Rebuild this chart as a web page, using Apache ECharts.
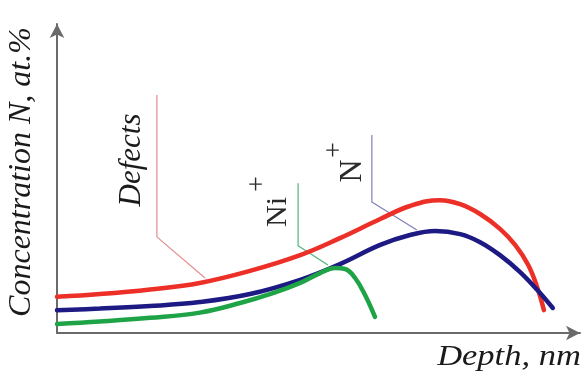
<!DOCTYPE html>
<html>
<head>
<meta charset="utf-8">
<script src="https://cdn.jsdelivr.net/npm/echarts@6/dist/echarts.min.js"></script>
<style>
  html, body { margin: 0; padding: 0; background: #fff; }
  #chart { width: 588px; height: 374px; }
</style>
</head>
<body>
<div id="chart"></div>
<script>
// Depth profiles (arbitrary units, 0–100 on both axes)
const defectsDepth = [0, 8.2, 17.8, 27.3, 36.9, 46.5, 54.1, 61.8, 67.5, 73.2, 77.1, 80.9, 84.7, 87.6, 90.1, 91.8, 93.1];
const defectsConc  = [11.7, 12.6, 14.1, 16.2, 20.1, 25.2, 30.7, 36.9, 41.1, 43.0, 41.7, 38.5, 33.7, 28.5, 22.0, 14.9, 7.4];

const nDepth = [0, 8.2, 17.8, 27.3, 36.9, 46.5, 54.1, 61.8, 67.5, 72.3, 77.1, 80.9, 84.7, 88.5, 91.8, 94.8];
const nConc  = [7.4, 7.9, 8.7, 10.0, 12.6, 17.2, 22.3, 28.5, 31.7, 33.0, 32.0, 29.4, 25.2, 19.8, 14.0, 8.1];

const niDepth = [0, 8.2, 17.8, 27.3, 35.0, 41.3, 46.5, 50.3, 53.2, 55.1, 57.0, 58.9, 60.8];
const niConc  = [2.9, 3.7, 4.9, 6.6, 9.7, 12.9, 16.2, 19.4, 21.0, 20.7, 17.8, 12.3, 5.2];

// Leader lines from each label down to its curve
const defectsLeaderDepth = [19.1, 19.1, 28.3];
const defectsLeaderConc  = [77.0, 31.1, 17.8];
const niLeaderDepth = [46.1, 46.1, 51.8];
const niLeaderConc  = [48.5, 28.2, 22.0];
const nLeaderDepth = [60.2, 60.2, 68.8];
const nLeaderConc  = [64.1, 42.4, 33.3];

const zip = (xs, ys) => xs.map((x, i) => [x, ys[i]]);

const chart = echarts.init(document.getElementById('chart'), null, { renderer: 'canvas' });

const serif = '"Liberation Serif", "DejaVu Serif", serif';

function curve(name, xs, ys, color) {
  return {
    name, type: 'line', data: zip(xs, ys), smooth: 0.4,
    showSymbol: false, symbol: 'none',
    lineStyle: { color, width: 4.5, cap: 'round' }, z: 3
  };
}
function leader(name, xs, ys, color) {
  return {
    name, type: 'line', data: zip(xs, ys), smooth: false,
    showSymbol: false, symbol: 'none',
    lineStyle: { color, width: 1.2 }, z: 2
  };
}

chart.setOption({
  animation: false,
  backgroundColor: '#ffffff',
  grid: { left: 57, right: 8, top: 24, bottom: 41 },
  xAxis: {
    type: 'value', min: 0, max: 100,
    axisLine: { show: true, symbol: ['none', 'arrow'], symbolSize: [11, 14],
                lineStyle: { color: '#6a6a6a', width: 2 } },
    axisTick: { show: false }, axisLabel: { show: false }, splitLine: { show: false }
  },
  yAxis: {
    type: 'value', min: 0, max: 100,
    axisLine: { show: true, symbol: ['none', 'arrow'], symbolSize: [11, 14],
                lineStyle: { color: '#6a6a6a', width: 2 } },
    axisTick: { show: false }, axisLabel: { show: false }, splitLine: { show: false }
  },
  series: [
    leader('Defects leader', defectsLeaderDepth, defectsLeaderConc, '#e58c8c'),
    leader('Ni+ leader', niLeaderDepth, niLeaderConc, '#4fb27a'),
    leader('N+ leader', nLeaderDepth, nLeaderConc, '#7f7fb8'),
    curve('Defects', defectsDepth, defectsConc, '#ec2f27'),
    curve('N+', nDepth, nConc, '#1d1a84'),
    curve('Ni+', niDepth, niConc, '#1ea447')
  ],
  graphic: [
    { type: 'text', x: 22, y: 172, rotation: Math.PI / 2,
      style: { text: 'Concentration N, at.%', font: 'italic 32px ' + serif, fill: '#1a1a1a',
               textAlign: 'center', textVerticalAlign: 'middle' } },
    { type: 'text', x: 509, y: 357, scaleX: 1.15,
      style: { text: 'Depth, nm', font: 'italic 30px ' + serif, fill: '#1a1a1a',
               textAlign: 'center', textVerticalAlign: 'middle' } },
    { type: 'text', x: 132, y: 160, rotation: Math.PI / 2,
      style: { text: 'Defects', font: 'italic 31px ' + serif, fill: '#1a1a1a',
               textAlign: 'center', textVerticalAlign: 'middle' } },
    { type: 'text', x: 278, y: 212, rotation: Math.PI / 2,
      style: { text: 'Ni', font: '30px ' + serif, fill: '#2a2a2a',
               textAlign: 'center', textVerticalAlign: 'middle' } },
    { type: 'text', x: 258, y: 184, rotation: Math.PI / 2,
      style: { text: '+', font: '28px ' + serif, fill: '#2a2a2a',
               textAlign: 'center', textVerticalAlign: 'middle' } },
    { type: 'text', x: 353, y: 171, rotation: Math.PI / 2,
      style: { text: 'N', font: '32px ' + serif, fill: '#2a2a2a',
               textAlign: 'center', textVerticalAlign: 'middle' } },
    { type: 'text', x: 335, y: 150, rotation: Math.PI / 2,
      style: { text: '+', font: '28px ' + serif, fill: '#2a2a2a',
               textAlign: 'center', textVerticalAlign: 'middle' } }
  ]
});
</script>
</body>
</html>
